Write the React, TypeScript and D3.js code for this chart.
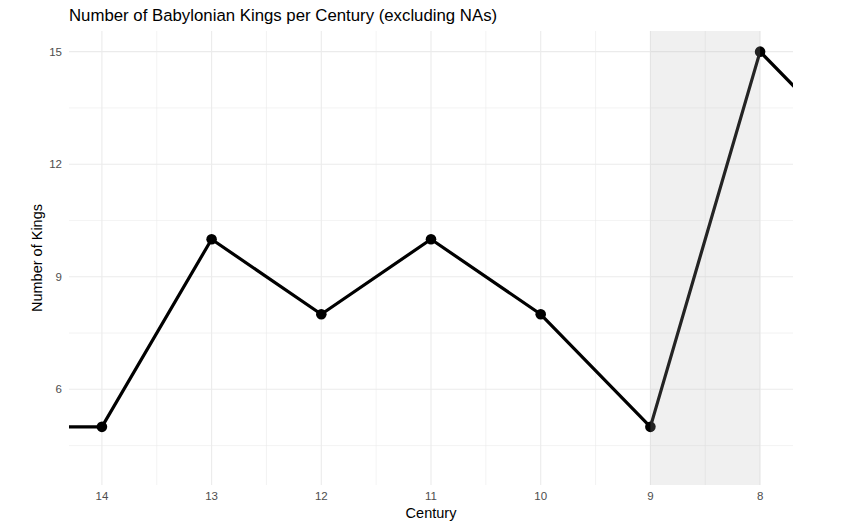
import React from "react";
import * as d3 from "d3";

const centuries = [15, 14, 13, 12, 11, 10, 9, 8, 7];
const kings = [5, 5, 10, 8, 10, 8, 5, 15, 12];
const xTicks = [14, 13, 12, 11, 10, 9, 8];
const xMinor = [13.5, 12.5, 11.5, 10.5, 9.5, 8.5];
const yTicks = [6, 9, 12, 15];
const yMinor = [4.5, 7.5, 10.5, 13.5];
const shade = [9, 8];

export default function App() {
  const W = 858, H = 531;
  const left = 69, right = 793, top = 31, bottom = 485;
  const x = d3.scaleLinear().domain([14.3, 7.7]).range([left, right]);
  const y = d3.scaleLinear().domain([3.45, 15.55]).range([bottom, top]);
  const data = centuries.map((c, i) => ({ c, v: kings[i] }));
  const line = d3.line<{ c: number; v: number }>().x(d => x(d.c)).y(d => y(d.v));
  const font = "'Liberation Sans', Arial, sans-serif";
  const grid = "#ebebeb";
  return (
    <svg width={W} height={H} style={{ position: "absolute", left: 0, top: 0, background: "#fff" }} fontFamily={font}>
      <defs>
        <clipPath id="panel">
          <rect x={left} y={top} width={right - left} height={bottom - top} />
        </clipPath>
      </defs>
      {yMinor.map(t => (
        <line key={"ym" + t} x1={left} x2={right} y1={y(t)} y2={y(t)} stroke={grid} strokeWidth={0.6} />
      ))}
      {xMinor.map(t => (
        <line key={"xm" + t} x1={x(t)} x2={x(t)} y1={top} y2={bottom} stroke={grid} strokeWidth={0.6} />
      ))}
      {yTicks.map(t => (
        <line key={"y" + t} x1={left} x2={right} y1={y(t)} y2={y(t)} stroke={grid} strokeWidth={1.1} />
      ))}
      {xTicks.map(t => (
        <line key={"x" + t} x1={x(t)} x2={x(t)} y1={top} y2={bottom} stroke={grid} strokeWidth={1.1} />
      ))}
      <g clipPath="url(#panel)">
        <path d={line(data) || ""} fill="none" stroke="#000" strokeWidth={3.2} strokeLinejoin="round" />
        {data.map(d => (
          <circle key={d.c} cx={x(d.c)} cy={y(d.v)} r={5.3} fill="#000" />
        ))}
      </g>
      <rect x={x(shade[0])} y={top} width={x(shade[1]) - x(shade[0])} height={bottom - top} fill="rgb(179,179,179)" fillOpacity={0.2} />
      {yTicks.map(t => (
        <text key={"yl" + t} x={62} y={y(t)} dy="0.35em" textAnchor="end" fontSize={11.5} fill="#4d4d4d">{t}</text>
      ))}
      {xTicks.map(t => (
        <text key={"xl" + t} x={x(t)} y={500} textAnchor="middle" fontSize={11.5} fill="#4d4d4d">{t}</text>
      ))}
      <text x={(left + right) / 2} y={518} textAnchor="middle" fontSize={14.5} fill="#000">Century</text>
      <text transform={`translate(42, ${(top + bottom) / 2}) rotate(-90)`} textAnchor="middle" fontSize={14.5} fill="#000">Number of Kings</text>
      <text x={69} y={21} fontSize={16.8} fill="#000">Number of Babylonian Kings per Century (excluding NAs)</text>
    </svg>
  );
}
